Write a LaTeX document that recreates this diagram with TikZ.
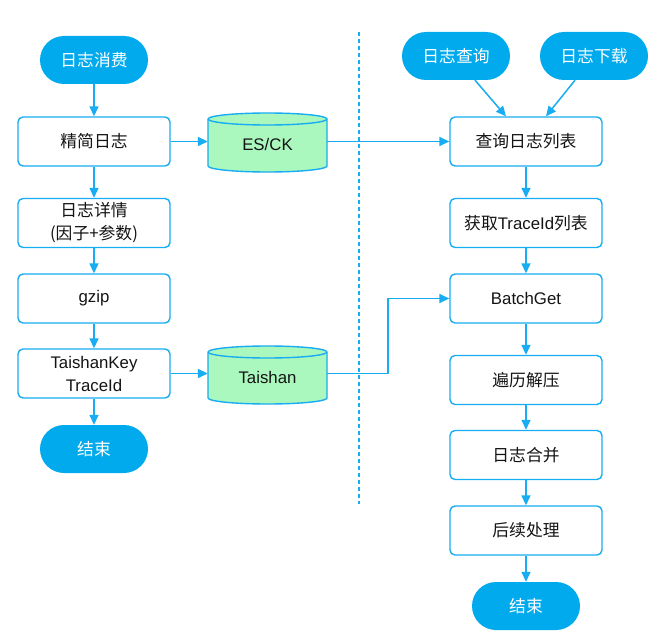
\documentclass[tikz,border=0pt]{standalone}
\usepackage{fontspec}
\setmainfont{Noto Sans CJK SC}
\newfontfamily\latf{Liberation Sans}
\usetikzlibrary{arrows.meta,calc}
\definecolor{termblue}{RGB}{0,170,236}
\definecolor{lineblue}{RGB}{24,172,242}
\definecolor{cylgreen}{RGB}{170,248,190}
\definecolor{txt}{RGB}{20,20,20}
\newcommand\lat[1]{{\latf #1}}
\begin{document}
\begin{tikzpicture}[x=1pt,y=-1pt,
  every node/.style={font=\fontsize{16.8}{23}\selectfont},
  term/.style={rectangle,rounded corners=24pt,fill=termblue,text=white,minimum width=108pt,minimum height=48pt,inner sep=0pt},
  proc/.style={rectangle,rounded corners=5pt,draw=lineblue,line width=1.4pt,fill=white,text=txt,minimum width=152pt,minimum height=49pt,inner sep=0pt,align=center},
  cyltext/.style={rectangle,text=txt,minimum width=119pt,minimum height=58pt,inner sep=0pt},
  cyl/.style={draw=lineblue,line width=1.4pt,fill=cylgreen},
  arr/.style={draw=lineblue,line width=1.5pt,-{Triangle[length=10pt,width=9pt]}},
  sep/.style={draw=lineblue,line width=1.4pt,dash pattern=on 4pt off 3pt}]
\useasboundingbox (0,0) rectangle (670,642);
\fill[white] (0,0) rectangle (670,642);
% cylinders
\path[cyl] (208,119) -- (208,166) .. controls (208,169.3) and (234.6,172) .. (267.5,172) .. controls (300.4,172) and (327,169.3) .. (327,166) -- (327,119) .. controls (327,115.7) and (300.4,113) .. (267.5,113) .. controls (234.6,113) and (208,115.7) .. (208,119) -- cycle;
\draw[lineblue,line width=1.4pt] (208,119) .. controls (208,122.3) and (234.6,125) .. (267.5,125) .. controls (300.4,125) and (327,122.3) .. (327,119);
\path[cyl] (208,352) -- (208,398) .. controls (208,401.3) and (234.6,404) .. (267.5,404) .. controls (300.4,404) and (327,401.3) .. (327,398) -- (327,352) .. controls (327,348.7) and (300.4,346) .. (267.5,346) .. controls (234.6,346) and (208,348.7) .. (208,352) -- cycle;
\draw[lineblue,line width=1.4pt] (208,352) .. controls (208,355.3) and (234.6,358) .. (267.5,358) .. controls (300.4,358) and (327,355.3) .. (327,352);
\node[cyltext] (escK) at (267.5,144) {\lat{ES/CK}};
\node[cyltext] (tais) at (267.5,377) {\lat{Taishan}};
% separator
\draw[sep] (359,32) -- (359,504);
% left column
\node[term] (start1) at (94,60) {日志消费};
\node[proc] (jj) at (94,141.5) {精简日志};
\node[proc] (xq) at (94,223) {日志详情\\(因子+参数)};
\node[proc] (gz) at (94,298.5) {\lat{gzip}};
\node[proc] (tk) at (94,373.5) {\lat{TaishanKey}\\\lat{TraceId}};
\node[term] (end1) at (94,449) {结束};
% right column
\node[term] (q1) at (456,56) {日志查询};
\node[term] (q2) at (594,56) {日志下载};
\node[proc] (list) at (526,141.5) {查询日志列表};
\node[proc] (gettid) at (526,223) {获取\lat{TraceId}列表};
\node[proc] (batch) at (526,298.5) {\lat{BatchGet}};
\node[proc] (bl) at (526,380) {遍历解压};
\node[proc] (merge) at (526,455) {日志合并};
\node[proc] (post) at (526,530.5) {后续处理};
\node[term] (end2) at (526,606) {结束};
% left connectors
\draw[arr] (start1) -- (jj);
\draw[arr] (jj) -- (xq);
\draw[arr] (xq) -- (gz);
\draw[arr] (gz) -- (tk);
\draw[arr] (tk) -- (end1);
\draw[arr] (jj.east) -- (jj.east -| escK.west);
\draw[arr] (tk.east) -- (tk.east -| tais.west);
% cross connectors
\draw[arr] (escK.east |- list.west) -- (list.west);
\draw[arr] (tais.east |- tk.east) -- (388,373.5) |- (batch.west);
% right connectors
\draw[arr] ($(q1.south)+(19,0)$) -- ($(list.north)+(-20,0)$);
\draw[arr] ($(q2.south)+(-19,0)$) -- ($(list.north)+(20,0)$);
\draw[arr] (list) -- (gettid);
\draw[arr] (gettid) -- (batch);
\draw[arr] (batch) -- (bl);
\draw[arr] (bl) -- (merge);
\draw[arr] (merge) -- (post);
\draw[arr] (post) -- (end2);
\end{tikzpicture}
\end{document}
